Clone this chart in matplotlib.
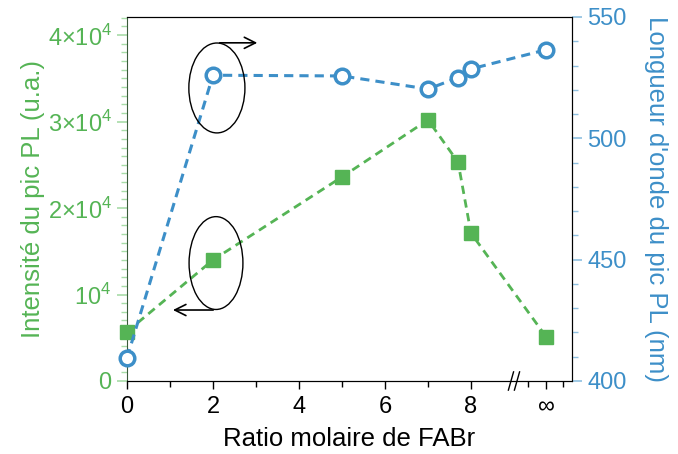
import numpy as np
import matplotlib
matplotlib.use('Agg')
from matplotlib import pyplot as plt
from matplotlib.patches import Ellipse

plt.rcParams['font.family'] = ['Liberation Sans', 'DejaVu Sans']
plt.rcParams['mathtext.fontset'] = 'custom'
plt.rcParams['mathtext.rm'] = 'Liberation Sans'

# data ("inf" drawn at x = 9.75)
ratio = [0, 2, 5, 7, 7.7, 8, 9.75]
intensite = [5700, 14000, 23600, 30200, 25300, 17100, 5100]
longueur = [409.5, 526, 525.7, 520.3, 525, 528.6, 536.5]

xticks = [0, 2, 4, 6, 8, 9.75]
xlabels = ['0', '2', '4', '6', '8', '∞']
xminor = [1, 3, 5, 7, 9.33, 10.15]
yticks_l = [0, 1e4, 2e4, 3e4, 4e4]
ylabels_l = ['0', '10$^4$', '2×10$^4$', '3×10$^4$', '4×10$^4$']

green = '#55b455'
green_light = '#a8dca8'
blue = '#3d8fc8'
blue_light = '#8fc0e0'
fs = 17
fl = 18.5

fig = plt.figure(figsize=(6.78, 4.54), dpi=100)
ax = fig.add_axes([0.1873, 0.1608, 0.6564, 0.8018])
ax2 = ax.twinx()

ax.plot(ratio, intensite, ls='--', color=green, lw=2, marker='s', ms=10,
        dashes=(3, 2), clip_on=False, zorder=3)
ax2.plot(ratio, longueur, ls='--', color=blue, lw=2.2, marker='o', ms=10.5,
         mfc='white', mec=blue, mew=2.5, dashes=(3, 2), clip_on=False, zorder=4)

ax.set_xlim(0, 10.35)
ax.set_ylim(0, 42100)
ax2.set_ylim(400, 550)

ax.set_xticks(xticks)
ax.set_xticklabels(xlabels, fontsize=fs)
ax.set_xticks(xminor, minor=True)
ax.tick_params(axis='x', which='major', direction='out', length=6, width=1, pad=5)
ax.tick_params(axis='x', which='minor', direction='out', length=4, width=1)

ax.set_yticks(yticks_l)
ax.set_yticklabels(ylabels_l, fontsize=fs, color=green)
ax.set_yticks(np.arange(0, 42001, 1000), minor=True)
ax.tick_params(axis='y', which='major', direction='out', length=7, width=1.2, color=green_light, pad=4)
ax.tick_params(axis='y', which='minor', direction='out', length=4, width=1, color=green_light)

ax2.set_yticks([400, 450, 500, 550])
ax2.set_yticks(np.arange(400, 551, 10), minor=True)
ax2.tick_params(axis='y', which='major', direction='out', length=7, width=1.2, color=blue_light,
                labelcolor=blue, labelsize=fs, pad=4)
ax2.tick_params(axis='y', which='minor', direction='out', length=4, width=1, color=blue_light)

ax.spines['left'].set_color('#3a5a3a')
ax2.spines['left'].set_visible(False)
for s in ['top', 'right', 'bottom']:
    ax2.spines[s].set_color('black')

ax.set_xlabel('Ratio molaire de FABr', fontsize=fl, labelpad=6)
ax.set_ylabel('Intensité du pic PL (u.a.)', fontsize=fl, color=green, labelpad=2)
ax2.set_ylabel("Longueur d'onde du pic PL (nm)", fontsize=fl, color=blue,
               rotation=270, labelpad=30)

# axis break //
for dx in (-0.07, 0.07):
    ax.plot([9.0 + dx - 0.06, 9.0 + dx + 0.06], [-0.025, 0.025], color='black', lw=1,
            transform=ax.get_xaxis_transform(), clip_on=False, zorder=5)

# ellipses with arrows pointing at the axes
ax2.add_patch(Ellipse((0.202, 0.805), 0.126, 0.247, transform=ax2.transAxes,
                      fill=False, ec='black', lw=1, zorder=6))
ax2.annotate('', xy=(0.299, 0.929), xytext=(0.202, 0.929), xycoords='axes fraction',
             arrowprops=dict(arrowstyle='->', color='black', lw=1.2, mutation_scale=20))
ax2.add_patch(Ellipse((0.2, 0.324), 0.121, 0.255, transform=ax2.transAxes,
                      fill=False, ec='black', lw=1, zorder=6))
ax2.annotate('', xy=(0.097, 0.195), xytext=(0.2, 0.195), xycoords='axes fraction',
             arrowprops=dict(arrowstyle='->', color='black', lw=1.2, mutation_scale=20))

fig.savefig('out.png', dpi=100)
